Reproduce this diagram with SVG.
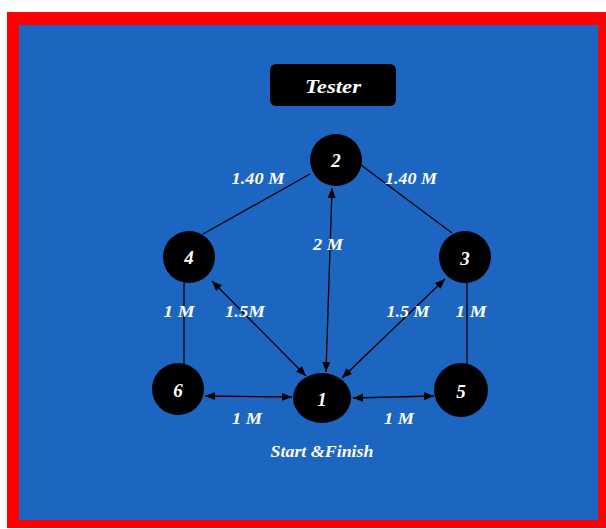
<svg xmlns="http://www.w3.org/2000/svg" width="606" height="529" viewBox="0 0 606 529">
<style>
.node{fill:#000}
.num{font-family:"Liberation Serif",serif;font-weight:bold;font-style:italic;font-size:19px;fill:#fff;text-anchor:middle;dominant-baseline:central}
.lbl{font-family:"Liberation Serif",serif;font-weight:bold;font-style:italic;font-size:16px;fill:#fff;text-anchor:middle;dominant-baseline:central}
.edge{stroke:#000;stroke-width:1.3;fill:none}
.arr{marker-start:url(#ah);marker-end:url(#ah)}
</style>
<defs>
<marker id="ah" viewBox="0 0 10 10" refX="10" refY="5" markerWidth="10" markerHeight="10" markerUnits="userSpaceOnUse" orient="auto-start-reverse">
<path d="M0,1 L10,5 L0,9 Z" fill="#000"/>
</marker>
</defs>
<rect x="7" y="12" width="599" height="516" fill="#ff0000"/>
<rect x="19" y="25" width="579" height="495" fill="#1c65c1"/>
<g id="connectors">
<line class="edge" x1="310" y1="174" x2="203" y2="234"/>
<line class="edge" x1="361" y1="165" x2="452" y2="233"/>
<line class="edge" x1="184" y1="283" x2="184" y2="364"/>
<line class="edge" x1="467" y1="283" x2="467" y2="365"/>
<line class="edge arr" x1="332" y1="188" x2="326" y2="372"/>
<line class="edge arr" x1="212" y1="281" x2="306" y2="376"/>
<line class="edge arr" x1="445" y1="279" x2="342" y2="378"/>
<line class="edge arr" x1="205" y1="396" x2="292" y2="397"/>
<line class="edge arr" x1="353" y1="398" x2="434" y2="396"/>
</g>
<g id="tester">
<rect class="node" x="270" y="64" width="126" height="42" rx="6"/>
<text class="lbl" x="333" y="86" style="font-size:19px" textLength="56" lengthAdjust="spacingAndGlyphs">Tester</text>
</g>
<g id="n2"><circle class="node" cx="336" cy="160" r="26"/><text class="num" x="336" y="160">2</text></g>
<g id="n4"><circle class="node" cx="189" cy="257" r="26"/><text class="num" x="189" y="257">4</text></g>
<g id="n3"><circle class="node" cx="465" cy="257" r="26"/><text class="num" x="465" y="258">3</text></g>
<g id="n6"><circle class="node" cx="178" cy="389" r="26"/><text class="num" x="178" y="390">6</text></g>
<g id="n1"><ellipse class="node" cx="322" cy="398" rx="29" ry="25"/><text class="num" x="322" y="399">1</text></g>
<g id="n5"><circle class="node" cx="461" cy="390" r="27"/><text class="num" x="461" y="391">5</text></g>
<g id="labels">
<text class="lbl" x="258" y="178" textLength="53" lengthAdjust="spacingAndGlyphs">1.40 M</text>
<text class="lbl" x="411" y="178" textLength="52" lengthAdjust="spacingAndGlyphs">1.40 M</text>
<text class="lbl" x="328" y="244" textLength="30" lengthAdjust="spacingAndGlyphs">2 M</text>
<text class="lbl" x="179" y="311" textLength="31" lengthAdjust="spacingAndGlyphs">1 M</text>
<text class="lbl" x="245" y="311" textLength="40" lengthAdjust="spacingAndGlyphs">1.5M</text>
<text class="lbl" x="408" y="311" textLength="43" lengthAdjust="spacingAndGlyphs">1.5 M</text>
<text class="lbl" x="471" y="311" textLength="31" lengthAdjust="spacingAndGlyphs">1 M</text>
<text class="lbl" x="247" y="418" textLength="30" lengthAdjust="spacingAndGlyphs">1 M</text>
<text class="lbl" x="399" y="418" textLength="30" lengthAdjust="spacingAndGlyphs">1 M</text>
<text class="lbl" x="322" y="451" textLength="103" lengthAdjust="spacingAndGlyphs">Start &amp;Finish</text>
</g>
</svg>
